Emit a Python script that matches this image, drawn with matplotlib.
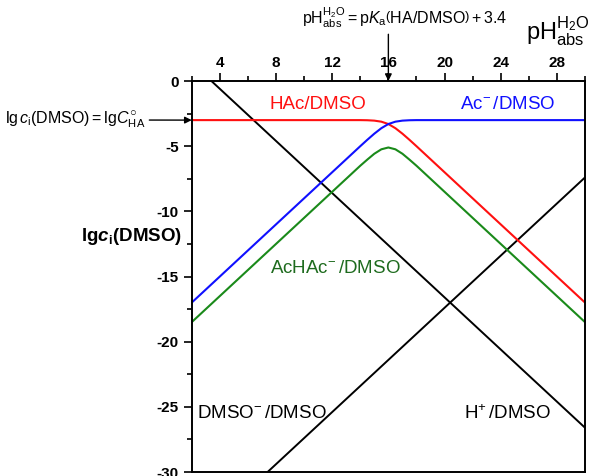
import matplotlib
matplotlib.use('Agg')
import matplotlib.pyplot as plt
from matplotlib.ticker import MultipleLocator

plt.rcParams['font.family'] = ['Liberation Sans', 'DejaVu Sans']
plt.rcParams['axes.unicode_minus'] = False
plt.rcParams['mathtext.fontset'] = 'custom'
plt.rcParams['mathtext.rm'] = 'Liberation Sans'
plt.rcParams['mathtext.it'] = 'Liberation Sans:italic'
plt.rcParams['mathtext.bf'] = 'Liberation Sans:bold'
plt.rcParams['mathtext.bfit'] = 'Liberation Sans:italic:bold'

# pH(abs, H2O) values
ph = [2, 3, 4, 5, 6, 7, 8, 9, 10, 11, 12, 13, 14, 14.5, 15, 15.5, 16,
      16.5, 17, 17.5, 18, 19, 20, 21, 22, 23, 24, 25, 26, 27, 28, 29, 30]
# lg c_i (DMSO) for each species
lg_hac = [-3.0, -3.0, -3.0, -3.0, -3.0, -3.0, -3.0, -3.0, -3.0, -3.0, -3.0, -3.0, -3.0, -3.01, -3.04, -3.12, -3.3,
          -3.62, -4.04, -4.51, -5.0, -6.0, -7.0, -8.0, -9.0, -10.0, -11.0, -12.0, -13.0, -14.0, -15.0, -16.0, -17.0]
lg_ac = [-17.0, -16.0, -15.0, -14.0, -13.0, -12.0, -11.0, -10.0, -9.0, -8.0, -7.0, -6.0, -5.0, -4.51, -4.04, -3.62, -3.3,
         -3.12, -3.04, -3.01, -3.0, -3.0, -3.0, -3.0, -3.0, -3.0, -3.0, -3.0, -3.0, -3.0, -3.0, -3.0, -3.0]
lg_achac = [-18.5, -17.5, -16.5, -15.5, -14.5, -13.5, -12.5, -11.5, -10.5, -9.5, -8.5, -7.5, -6.5, -6.03, -5.58, -5.24, -5.1,
            -5.24, -5.58, -6.03, -6.5, -7.5, -8.5, -9.5, -10.5, -11.5, -12.5, -13.5, -14.5, -15.5, -16.5, -17.5, -18.5]
# straight lines: end points
ph_h = [3.4, 30]
lg_h = [0, -26.6]
ph_dmso = [7.4, 30]
lg_dmso = [-30, -7.4]

fig = plt.figure(figsize=(5.9, 4.76), dpi=100)
ax = fig.add_axes([0.325, 0.0084, 0.6665, 0.8214])

ax.plot(ph_h, lg_h, color='black', lw=1.4)
ax.plot(ph_dmso, lg_dmso, color='black', lw=1.4)
ax.plot(ph, lg_hac, color='#ff1010', lw=1.5)
ax.plot(ph, lg_ac, color='#1010ff', lw=1.5)
ax.plot(ph, lg_achac, color='#1a8a1a', lw=1.5)

ax.set_xlim(2, 30)
ax.set_ylim(-30, 0)

#top axis only
ax.xaxis.tick_top()
ax.xaxis.set_major_locator(MultipleLocator(4))
ax.xaxis.set_minor_locator(MultipleLocator(2))
ax.yaxis.set_major_locator(MultipleLocator(5))
ax.yaxis.set_minor_locator(MultipleLocator(2.5))
ax.tick_params(which='major', direction='out', length=6, width=1.2, labelsize=11)
ax.tick_params(which='minor', direction='out', length=3.5, width=1.2)
ax.tick_params(axis='x', pad=2)
for lab in ax.get_xticklabels() + ax.get_yticklabels():
    lab.set_fontweight('bold')
for s in ax.spines.values():
    s.set_linewidth(1.4)

# curve labels
fs = 13.5
ax.text(11, -1.8, 'HAc/DMSO', color='#ff1010', fontsize=fs, ha='center', va='center')
ax.text(24.5, -1.8, r'Ac$^{-}\,$/DMSO', color='#1010ff', fontsize=fs, ha='center', va='center')
ax.text(12.2, -14.4, r'AcHAc$^{-}\,$/DMSO', color='#1e6b1e', fontsize=fs, ha='center', va='center')
ax.text(2.4, -25.5, r'DMSO$^{-}\,$/DMSO', color='black', fontsize=fs, ha='left', va='center')
ax.text(24.5, -25.5, r'H$^{+}\,$/DMSO', color='black', fontsize=fs, ha='center', va='center')

fig.text(0.223, 0.504, r'$\mathbf{lg}\mathbfit{c}_\mathbf{i}\mathbf{(DMSO)}$', fontsize=13.5,
         ha='center', va='center')
fig.text(0.945, 0.935, r'pH$_\mathrm{abs}^\mathrm{H_2O}$', fontsize=17, ha='center', va='center')

# left annotation with arrow to the total concentration
ax.annotate(r'$\mathrm{lg}\,c_\mathrm{i}\mathrm{(DMSO)} = \mathrm{lg}C^{\bigcirc}_\mathrm{HA}$',
            xy=(2, -3), xycoords='data', xytext=(0.008, 0.748), textcoords='figure fraction',
            fontsize=11.5, ha='left', va='center', annotation_clip=False,
            arrowprops=dict(arrowstyle='-|>', color='black', lw=1, shrinkA=1, shrinkB=0,
                            mutation_scale=10))

# top annotation
fig.text(0.685, 0.962, r'pH$_\mathrm{abs}^\mathrm{H_2O} = \mathrm{p}K_\mathrm{a}\left(\mathrm{HA/DMSO}\right) + 3.4$',
         fontsize=11.5, ha='center', va='center')
ax.annotate('', xy=(16, 0), xycoords='data', xytext=(16, 0.928),
            textcoords=('data', 'figure fraction'), annotation_clip=False,
            arrowprops=dict(arrowstyle='-|>', color='black', lw=1, shrinkA=0, shrinkB=0,
                            mutation_scale=10))

fig.savefig('out.png', dpi=100)
